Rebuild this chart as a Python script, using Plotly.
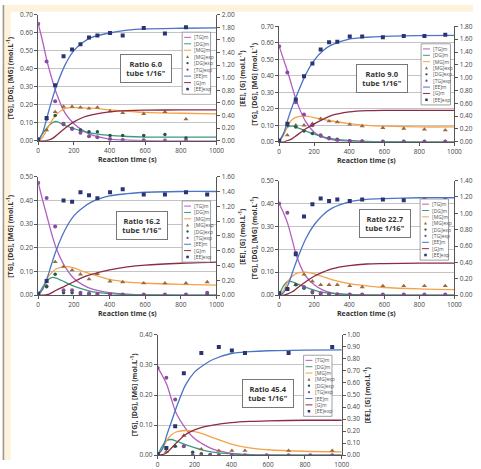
import plotly.graph_objects as go

W, H = 481, 469

# ---------------- data ----------------
TM = [0, 25, 50, 75, 100, 150, 200, 250, 300, 400, 500, 600, 800, 1000]
TE = [0, 47, 95, 142, 190, 237, 285, 332, 403, 474, 592, 711, 829, 948]
XTICKS = [0, 200, 400, 600, 800, 1000]
RATIOS = ["6.0", "9.0", "16.2", "22.7", "45.4"]

# Panel 1 (ratio 6.0)
P1_TG_M = [0.65, 0.55, 0.44, 0.35, 0.27, 0.155, 0.095, 0.058, 0.033, 0.010, 0.004, 0.001, 0.0, 0.0]
P1_DG_M = [0.0, 0.04, 0.073, 0.098, 0.108, 0.085, 0.068, 0.052, 0.043, 0.030, 0.024, 0.021, 0.020, 0.020]
P1_MG_M = [0.0, 0.02, 0.064, 0.11, 0.145, 0.179, 0.184, 0.183, 0.181, 0.172, 0.164, 0.158, 0.153, 0.150]
P1_EE_M = [0.0, 0.13, 0.38, 0.63, 0.85, 1.20, 1.43, 1.56, 1.64, 1.71, 1.755, 1.775, 1.785, 1.79]
P1_G_M = [0.0, 0.0, 0.005, 0.03, 0.08, 0.20, 0.30, 0.37, 0.41, 0.46, 0.48, 0.487, 0.49, 0.49]
P1_MG_E = [0.0, 0.06, 0.16, 0.19, 0.19, 0.185, 0.18, 0.185, 0.165, 0.155, 0.15, 0.16, 0.12, None]
P1_DG_E = [0.01, 0.12, 0.14, 0.09, 0.07, 0.06, 0.05, 0.05, 0.03, 0.03, 0.03, 0.035, 0.015, None]
P1_TG_E = [0.65, 0.44, 0.22, 0.095, 0.065, 0.045, 0.025, 0.02, 0.01, 0.005, 0.003, 0.002, 0.002, None]
P1_EE_E = [0.02, 0.36, 0.88, 1.34, 1.45, 1.53, 1.64, 1.67, 1.71, 1.67, 1.79, 1.70, 1.80, None]

# Panel 2 (ratio 9.0)
P2_TG_M = [0.58, 0.50, 0.42, 0.33, 0.245, 0.125, 0.058, 0.028, 0.013, 0.004, 0.001, 0.0, 0.0, 0.0]
P2_DG_M = [0.0, 0.05, 0.09, 0.095, 0.088, 0.066, 0.046, 0.030, 0.019, 0.008, 0.003, 0.001, 0.0, 0.0]
P2_MG_M = [0.0, 0.04, 0.10, 0.135, 0.15, 0.155, 0.147, 0.136, 0.126, 0.11, 0.10, 0.095, 0.09, 0.09]
P2_EE_M = [0.0, 0.12, 0.35, 0.55, 0.72, 1.04, 1.27, 1.42, 1.51, 1.60, 1.63, 1.645, 1.655, 1.66]
P2_G_M = [0.0, 0.0, 0.02, 0.05, 0.10, 0.20, 0.28, 0.35, 0.41, 0.465, 0.485, 0.49, 0.49, 0.49]
P2_MG_E = [0.0, 0.04, 0.10, 0.10, 0.11, 0.14, 0.125, 0.12, 0.105, 0.095, 0.085, 0.08, 0.075, 0.07]
P2_DG_E = [0.01, 0.10, 0.09, 0.065, 0.05, 0.035, 0.025, 0.015, 0.005, 0.003, 0.002, 0.002, 0.002, 0.002]
P2_TG_E = [0.58, 0.42, 0.24, 0.165, 0.10, 0.04, 0.02, 0.01, 0.005, 0.003, 0.002, 0.002, 0.002, 0.002]
P2_EE_E = [0.015, 0.28, 0.66, 1.02, 1.22, 1.44, 1.55, 1.56, 1.64, 1.64, 1.63, 1.65, 1.65, 1.67]

# Panel 3 (ratio 16.2)
P3_TG_M = [0.475, 0.40, 0.33, 0.26, 0.20, 0.12, 0.07, 0.043, 0.026, 0.010, 0.004, 0.001, 0.0, 0.0]
P3_DG_M = [0.0, 0.035, 0.062, 0.074, 0.072, 0.055, 0.038, 0.025, 0.015, 0.006, 0.002, 0.001, 0.0, 0.0]
P3_MG_M = [0.0, 0.025, 0.07, 0.095, 0.11, 0.12, 0.115, 0.10, 0.088, 0.066, 0.055, 0.05, 0.045, 0.042]
P3_EE_M = [0.0, 0.08, 0.23, 0.42, 0.60, 0.88, 1.07, 1.18, 1.26, 1.34, 1.37, 1.39, 1.40, 1.40]
P3_G_M = [0.0, 0.0, 0.005, 0.03, 0.065, 0.12, 0.18, 0.24, 0.28, 0.34, 0.38, 0.405, 0.43, 0.445]
P3_MG_E = [0.0, 0.04, 0.14, 0.12, 0.105, 0.088, 0.067, 0.09, 0.058, 0.055, 0.05, 0.05, 0.05, 0.055]
P3_DG_E = [0.005, 0.035, 0.088, 0.01, 0.01, 0.005, 0.004, 0.003, 0.002, 0.001, 0.001, 0.001, 0.001, 0.005]
P3_TG_E = [0.475, 0.41, 0.29, 0.02, 0.02, 0.01, 0.008, 0.005, 0.003, 0.002, 0.002, 0.002, 0.002, 0.01]
P3_EE_E = [0.02, 0.19, None, 1.28, 1.26, 1.39, 1.35, 1.31, 1.39, 1.43, 1.36, 1.36, 1.39, 1.36]

# Panel 4 (ratio 22.7)
P4_TG_M = [0.40, 0.36, 0.31, 0.24, 0.17, 0.085, 0.045, 0.022, 0.010, 0.003, 0.001, 0.0, 0.0, 0.0]
P4_DG_M = [0.0, 0.04, 0.06, 0.058, 0.05, 0.035, 0.022, 0.012, 0.007, 0.002, 0.0, 0.0, 0.0, 0.0]
P4_MG_M = [0.0, 0.02, 0.06, 0.082, 0.095, 0.10, 0.093, 0.08, 0.068, 0.05, 0.04, 0.033, 0.027, 0.024]
P4_EE_M = [0.0, 0.03, 0.12, 0.27, 0.42, 0.68, 0.86, 0.98, 1.06, 1.14, 1.17, 1.18, 1.19, 1.19]
P4_G_M = [0.0, 0.0, 0.015, 0.04, 0.08, 0.16, 0.23, 0.28, 0.32, 0.36, 0.38, 0.385, 0.39, 0.39]
P4_MG_E = [0.0, 0.03, 0.045, 0.09, 0.06, 0.045, 0.045, 0.045, 0.04, 0.035, 0.04, 0.04, 0.04, 0.04]
P4_DG_E = [0.005, 0.025, 0.045, 0.03, 0.01, 0.005, 0.004, 0.003, 0.002, 0.001, 0.001, 0.001, 0.001, 0.001]
P4_TG_E = [0.40, 0.36, 0.185, 0.035, 0.015, 0.008, 0.005, 0.004, 0.002, 0.002, 0.002, 0.002, 0.002, 0.002]
P4_EE_E = [0.024, 0.075, 0.50, 0.96, 1.11, 1.18, 1.15, 1.17, 1.15, 1.17, 1.17, 1.16, 1.16, 1.16]

# Panel 5 (ratio 45.4)
P5_TG_M = [0.29, 0.265, 0.234, 0.185, 0.14, 0.09, 0.055, 0.035, 0.02, 0.006, 0.002, 0.001, 0.0, 0.0]
P5_DG_M = [0.0, 0.03, 0.049, 0.052, 0.047, 0.035, 0.025, 0.016, 0.010, 0.004, 0.001, 0.0, 0.0, 0.0]
P5_MG_M = [0.0, 0.02, 0.05, 0.068, 0.077, 0.082, 0.078, 0.07, 0.058, 0.037, 0.024, 0.018, 0.013, 0.011]
P5_EE_M = [0.0, 0.05, 0.17, 0.28, 0.39, 0.58, 0.69, 0.75, 0.795, 0.845, 0.86, 0.868, 0.873, 0.875]
P5_G_M = [0.0, 0.005, 0.02, 0.06, 0.10, 0.17, 0.21, 0.235, 0.25, 0.27, 0.28, 0.285, 0.29, 0.29]
P5_MG_E = [0.0, 0.012, 0.03, 0.065, None, 0.02, None, 0.015, 0.015, 0.015, None, 0.015, None, 0.015]
P5_DG_E = [0.005, 0.025, 0.03, 0.03, 0.01, 0.005, 0.002, 0.0, None, None, None, None, None, None]
P5_TG_E = [0.29, 0.257, 0.185, 0.03, 0.0, 0.0, 0.0, 0.0, 0.0, 0.0, 0.0, 0.0, 0.0, 0.0]
P5_EE_E = [0.01, 0.06, 0.24, 0.68, None, 0.85, None, 0.90, 0.87, 0.85, None, 0.85, None, 0.90]

# ---------------- styles ----------------
C_TG = "#b25fc2"
C_DG = "#3b9a78"
C_MG = "#f5a24a"
C_EE = "#4a74c4"
C_G = "#8c2b42"
C_MGE = "#9a6a3c"
C_DGE = "#1f5a48"
C_TGE = "#8a4aa0"
C_EEE = "#2a3472"
FONT = "Open Sans"

# layout of each panel in pixels
PANELS = [
    dict(x0=37, x1=219, yt=10, yb=140, lmax=0.70, rmax=2.0, rd=0.2, box=(147, 65),
         leg=(184, 28, 213, 92), lt=8, rt=245),
    dict(x0=283, x1=462, yt=22, yb=141, lmax=0.70, rmax=1.8, rd=0.2, box=(388, 76),
         leg=(428, 40, 458, 103), lt=257, rt=None),
    dict(x0=37, x1=219, yt=177, yb=299, lmax=0.50, rmax=1.6, rd=0.2, box=(143, 227),
         leg=(184, 202, 213, 265), lt=8, rt=245),
    dict(x0=283, x1=462, yt=181, yb=299, lmax=0.50, rmax=1.4, rd=0.2, box=(391, 225),
         leg=(427, 200, 456, 263), lt=257, rt=None),
    dict(x0=159, x1=347, yt=340, yb=464, lmax=0.40, rmax=1.0, rd=0.1, box=(272, 400),
         leg=(308, 361, 337, 424), lt=135, rt=373),
]
DATA = [
    (P1_TG_M, P1_DG_M, P1_MG_M, P1_EE_M, P1_G_M, P1_MG_E, P1_DG_E, P1_TG_E, P1_EE_E),
    (P2_TG_M, P2_DG_M, P2_MG_M, P2_EE_M, P2_G_M, P2_MG_E, P2_DG_E, P2_TG_E, P2_EE_E),
    (P3_TG_M, P3_DG_M, P3_MG_M, P3_EE_M, P3_G_M, P3_MG_E, P3_DG_E, P3_TG_E, P3_EE_E),
    (P4_TG_M, P4_DG_M, P4_MG_M, P4_EE_M, P4_G_M, P4_MG_E, P4_DG_E, P4_TG_E, P4_EE_E),
    (P5_TG_M, P5_DG_M, P5_MG_M, P5_EE_M, P5_G_M, P5_MG_E, P5_DG_E, P5_TG_E, P5_EE_E),
]


def fx(x):
    return x / W


def fy(y):
    return 1 - y / H


fig = go.Figure()
shapes = []
annotations = []

# cream page border
shapes.append(dict(type="rect", xref="paper", yref="paper", x0=0, x1=fx(9), y0=0, y1=1,
                   fillcolor="#fdf3dd", line=dict(width=0), layer="below"))
shapes.append(dict(type="rect", xref="paper", yref="paper", x0=0, x1=1, y0=fy(7), y1=1,
                   fillcolor="#fdf3dd", line=dict(width=0), layer="below"))
shapes.append(dict(type="line", xref="paper", yref="paper", x0=fx(1.5), x1=fx(1.5), y0=0, y1=1,
                   line=dict(color="#9a9a9a", width=1.5)))

LEG_ITEMS = [
    ("[TG]m", "line", C_TG), ("[DG]m", "line", C_DG), ("[MG]m", "line", C_MG),
    ("[MG]exp", "tri", C_MGE), ("[DG]exp", "dot", C_DGE), ("[TG]exp", "dot", C_TGE),
    ("[EE]m", "line", C_EE), ("[G]m", "line", C_G), ("[EE]exp", "sq", C_EEE),
]

for i, (p, d) in enumerate(zip(PANELS, DATA)):
    k = i + 1
    xa = "x" if k == 1 else f"x{k}"
    yl = "y" if k == 1 else f"y{2 * k - 1}"
    yr = f"y{2 * k}"
    tg_m, dg_m, mg_m, ee_m, g_m, mg_e, dg_e, tg_e, ee_e = d

    def line(y, c, ax):
        fig.add_trace(go.Scatter(x=TM, y=y, mode="lines", xaxis=xa, yaxis=ax,
                                 line=dict(color=c, width=1.3, shape="spline", smoothing=0.8),
                                 showlegend=False, hoverinfo="skip"))

    def pts(y, c, sym, size, ax):
        fig.add_trace(go.Scatter(x=TE, y=y, mode="markers", xaxis=xa, yaxis=ax,
                                 marker=dict(color=c, symbol=sym, size=size, line=dict(width=0)),
                                 showlegend=False, hoverinfo="skip"))

    line(tg_m, C_TG, yl)
    line(dg_m, C_DG, yl)
    line(mg_m, C_MG, yl)
    line(ee_m, C_EE, yr)
    line(g_m, C_G, yr)
    pts(mg_e, C_MGE, "triangle-up", 4.5, yl)
    pts(dg_e, C_DGE, "circle", 3.5, yl)
    pts(tg_e, C_TGE, "circle", 4, yl)
    pts(ee_e, C_EEE, "square", 4, yr)

    tickfont = dict(family=FONT, size=6.5, color="#444")
    xkey = "xaxis" if k == 1 else f"xaxis{k}"
    ylkey = "yaxis" if k == 1 else f"yaxis{2 * k - 1}"
    yrkey = f"yaxis{2 * k}"
    fig.layout[xkey] = dict(domain=[fx(p["x0"]), fx(p["x1"])], anchor=yl, range=[0, 1000],
                            tickvals=XTICKS, ticks="outside", ticklen=3, tickcolor="#555",
                            showline=True, linecolor="#555", linewidth=1, showgrid=False,
                            zeroline=False, tickfont=tickfont, fixedrange=True)
    fig.layout[ylkey] = dict(domain=[fy(p["yb"]), fy(p["yt"])], anchor=xa, range=[0, p["lmax"]],
                             dtick=0.1, tick0=0, tickformat=".2f", ticks="outside", ticklen=3,
                             tickcolor="#555", showline=True, linecolor="#555", linewidth=1,
                             showgrid=True, gridcolor="#c4c4c4", gridwidth=1, zeroline=False,
                             tickfont=tickfont)
    fig.layout[yrkey] = dict(overlaying=yl, side="right", anchor=xa, range=[0, p["rmax"]],
                             dtick=p["rd"], tick0=0, tickformat=".2f", ticks="outside", ticklen=3,
                             tickcolor="#555", showline=True, linecolor="#555", linewidth=1,
                             showgrid=False, zeroline=False, tickfont=tickfont)

    yc = (p["yt"] + p["yb"]) / 2
    tfont = dict(family=FONT, size=7, color="#333")
    annotations.append(dict(xref="paper", yref="paper", x=fx(p["lt"]), y=fy(yc),
                            text="<b>[TG], [DG], [MG] (mol.L<sup>-1</sup>)</b>", textangle=-90,
                            showarrow=False, font=tfont, xanchor="center", yanchor="middle"))
    if p["rt"] is not None:
        annotations.append(dict(xref="paper", yref="paper", x=fx(p["rt"]), y=fy(yc),
                                text="<b>[EE], [G] (mol.L<sup>-1</sup>)</b>", textangle=-90,
                                showarrow=False, font=tfont, xanchor="center", yanchor="middle"))
    annotations.append(dict(xref="paper", yref="paper", x=fx((p["x0"] + p["x1"]) / 2),
                            y=fy(p["yb"] + 19), text="<b>Reaction time (s)</b>", showarrow=False,
                            font=dict(family=FONT, size=7, color="#333"),
                            xanchor="center", yanchor="middle"))
    # ratio box
    bx, by = p["box"]
    annotations.append(dict(xref="paper", yref="paper", x=fx(bx), y=fy(by),
                            text=f"<b>Ratio {RATIOS[i]}<br>tube 1/16\"</b>", showarrow=False,
                            font=dict(family=FONT, size=7.5, color="#333"), align="center",
                            bgcolor="white", bordercolor="#777", borderwidth=1,
                            width=48, height=25, xanchor="center", yanchor="middle"))
    # legend
    lx0, ly0, lx1, ly1 = p["leg"]
    shapes.append(dict(type="rect", xref="paper", yref="paper", x0=fx(lx0), x1=fx(lx1),
                       y0=fy(ly1), y1=fy(ly0), fillcolor="white",
                       line=dict(color="#888", width=0.8)))
    step = (ly1 - ly0 - 4) / 9
    for j, (lab, kind, col) in enumerate(LEG_ITEMS):
        yy = ly0 + 2 + step * (j + 0.5)
        sx = lx0 + 5.5
        if kind == "line":
            shapes.append(dict(type="line", xref="paper", yref="paper", x0=fx(lx0 + 2),
                               x1=fx(lx0 + 9), y0=fy(yy), y1=fy(yy),
                               line=dict(color=col, width=1)))
        elif kind == "dot":
            shapes.append(dict(type="circle", xref="paper", yref="paper", x0=fx(sx - 1.2),
                               x1=fx(sx + 1.2), y0=fy(yy + 1.2), y1=fy(yy - 1.2),
                               fillcolor=col, line=dict(width=0)))
        elif kind == "sq":
            shapes.append(dict(type="rect", xref="paper", yref="paper", x0=fx(sx - 1.3),
                               x1=fx(sx + 1.3), y0=fy(yy + 1.3), y1=fy(yy - 1.3),
                               fillcolor=col, line=dict(width=0)))
        else:
            path = (f"M {fx(sx - 1.6)} {fy(yy + 1.3)} L {fx(sx + 1.6)} {fy(yy + 1.3)} "
                    f"L {fx(sx)} {fy(yy - 1.6)} Z")
            shapes.append(dict(type="path", xref="paper", yref="paper", path=path,
                               fillcolor=col, line=dict(width=0)))
        annotations.append(dict(xref="paper", yref="paper", x=fx(lx0 + 10), y=fy(yy),
                                text=lab, showarrow=False, xanchor="left", yanchor="middle",
                                font=dict(family=FONT, size=5, color="#555")))

fig.update_layout(width=W, height=H, margin=dict(l=0, r=0, t=0, b=0),
                  paper_bgcolor="white", plot_bgcolor="white", showlegend=False,
                  shapes=shapes, annotations=annotations)
fig.write_html("out.html")
